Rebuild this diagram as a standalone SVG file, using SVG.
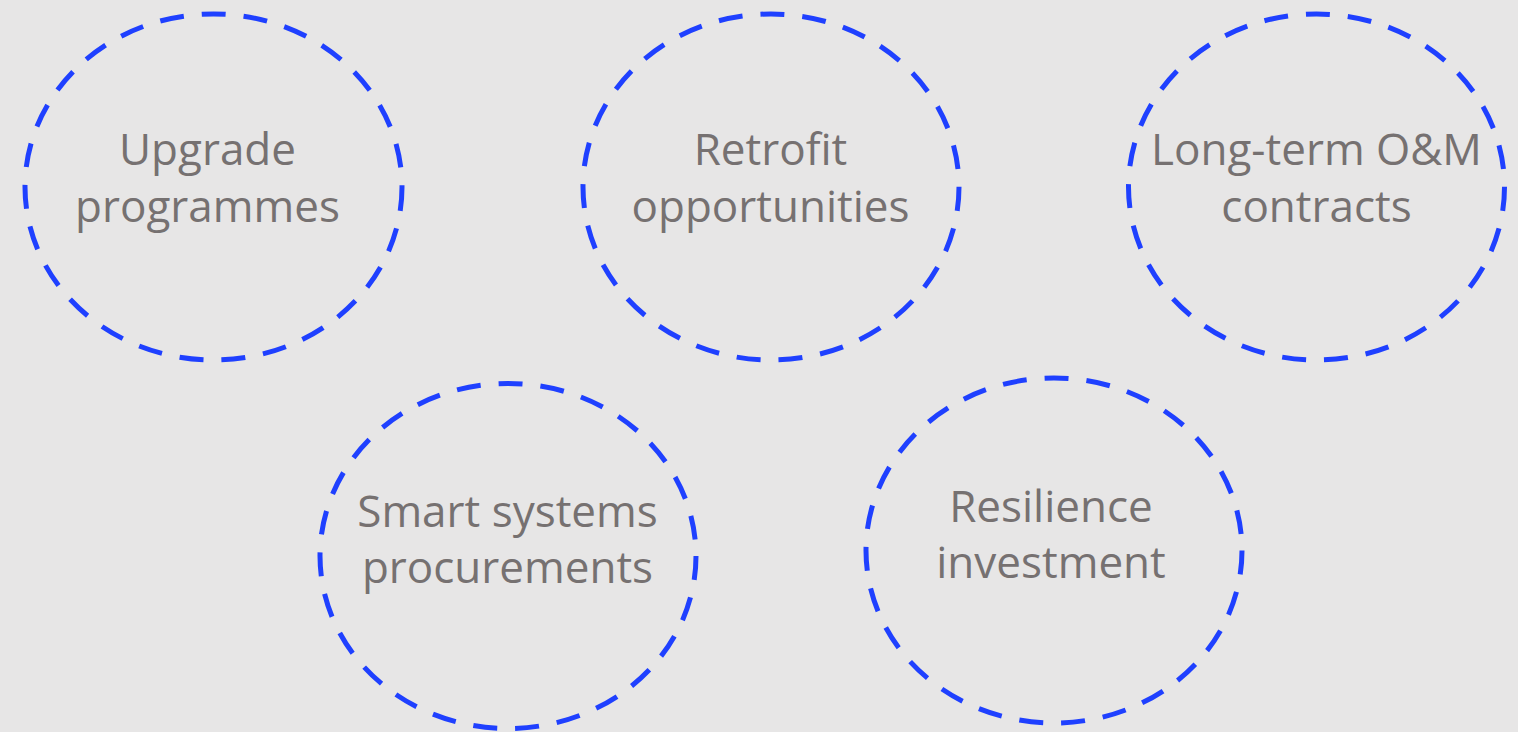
<svg xmlns="http://www.w3.org/2000/svg" width="1518" height="732" viewBox="0 0 1518 732">
<style>
.c{fill:none;stroke:#1F40FF;stroke-width:5;stroke-dasharray:24 18}
.t{font-family:"Open Sans","Liberation Sans",sans-serif;font-size:44px;fill:#767171;text-anchor:middle}
</style>
<rect x="0" y="0" width="1518" height="732" fill="#E7E6E6"/>
<g id="connectors"></g>
<g id="n1"><ellipse class="c" cx="213.5" cy="187" rx="188.5" ry="173"/><text class="t" x="207.5" y="165">Upgrade</text><text class="t" x="207.5" y="222">programmes</text></g>
<g id="n2"><ellipse class="c" cx="771" cy="187" rx="188" ry="173"/><text class="t" x="770.5" y="165">Retrofit</text><text class="t" x="770.5" y="222">opportunities</text></g>
<g id="n3"><ellipse class="c" cx="1316.5" cy="187" rx="188" ry="173"/><text class="t" x="1316.5" y="165">Long-term O&amp;M</text><text class="t" x="1316.5" y="222">contracts</text></g>
<g id="n4"><ellipse class="c" cx="508" cy="556" rx="188" ry="172.5"/><text class="t" x="507.5" y="527">Smart systems</text><text class="t" x="507.5" y="583">procurements</text></g>
<g id="n5"><ellipse class="c" cx="1054" cy="550.5" rx="188" ry="172.5"/><text class="t" x="1051" y="522">Resilience</text><text class="t" x="1051" y="578">investment</text></g>
</svg>
